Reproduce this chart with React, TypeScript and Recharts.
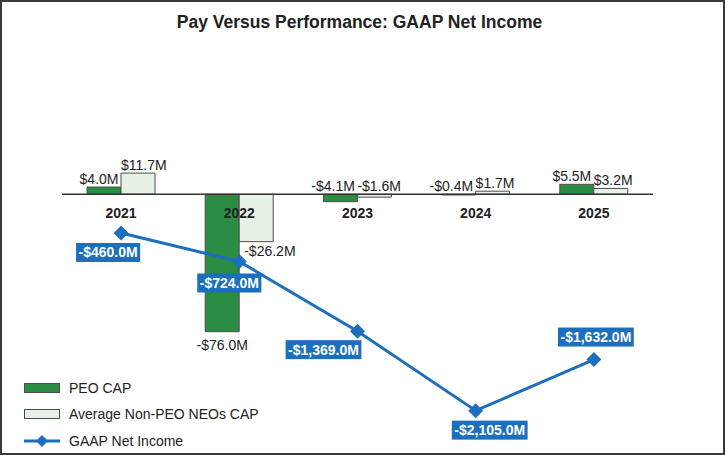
// Pay vs performance: CAP bars against GAAP net income line
import React from 'react';
import {
  ComposedChart,
  Bar,
  Line,
  XAxis,
  YAxis,
  ReferenceLine,
  LabelList,
  Legend,
} from 'recharts';

const years = ['2021', '2022', '2023', '2024', '2025'];
const peoCap = [4.0, -76.0, -4.1, -0.4, 5.5];
const neoCap = [11.7, -26.2, -1.6, 1.7, 3.2];
const netIncome = [-460.0, -724.0, -1369.0, -2105.0, -1632.0];
const seriesNames = ['PEO CAP', 'Average Non-PEO NEOs CAP', 'GAAP Net Income'];

const data = years.map((year, i) => ({
  year,
  peo: peoCap[i],
  neo: neoCap[i],
  income: netIncome[i],
}));

const FONT = '"Liberation Sans", Arial, sans-serif';
const GREEN = '#2b8c43';
const PALE = '#e6f2e6';
const EDGE = '#4d4d4d';
const BLUE = '#1c6fbd';

// where each net income tag sits relative to its point
const TAG_DX = [-13, -10, -34, 14, 2];
const TAG_DY = [10, 12, 9, 10, -32];

const money = (v: number) => `${v < 0 ? '-' : ''}$${Math.abs(v).toFixed(1)}M`;
const bigMoney = (v: number) =>
  `${v < 0 ? '-' : ''}$${Math.abs(v).toLocaleString('en-US', {
    minimumFractionDigits: 1,
    maximumFractionDigits: 1,
  })}M`;

// rough Arial Bold 14px widths, enough to size the tag boxes
const charW: Record<string, number> = { '-': 4.66, $: 7.78, ',': 3.89, '.': 3.89, M: 11.66 };
const textWidth = (s: string) => s.split('').reduce((w, c) => w + (charW[c] ?? 7.78), 0);

const box = (p: any) => {
  const vb = p.viewBox ?? p;
  return { x: Number(vb.x), y: Number(vb.y), width: Number(vb.width) || 0, height: Number(vb.height) || 0 };
};

const barLabel = (series: 'peo' | 'neo') => (p: any) => {
  const { x, y, width, height } = box(p);
  const v = Number(p.value);
  const top = Math.min(y, y + height);
  const bottom = Math.max(y, y + height);
  let tx: number;
  let ty: number;
  let anchor: 'start' | 'middle' | 'end';
  if (v < -10) {
    ty = bottom + (series === 'peo' ? 18 : 14);
    tx = series === 'peo' ? x + width / 2 : x + 5;
    anchor = series === 'peo' ? 'middle' : 'start';
  } else {
    ty = top - 3.5;
    tx = series === 'peo' ? x + width - 2.5 : x;
    anchor = series === 'peo' ? 'end' : 'start';
  }
  return (
    <text x={tx} y={ty} textAnchor={anchor} fontSize={14} fontFamily={FONT} fill="#222">
      {money(v)}
    </text>
  );
};

const YearLabel = (p: any) => {
  const { x, y } = box(p);
  return (
    <text x={x} y={y + 23.4} textAnchor="middle" fontSize={14} fontWeight="bold" fontFamily={FONT} fill="#222">
      {p.value}
    </text>
  );
};

const IncomeTag = (p: any) => {
  const { x, y } = box(p);
  const i = Number(p.index);
  const label = bigMoney(Number(p.value));
  const w = textWidth(label) + 5;
  const cx = x + (TAG_DX[i] ?? 0);
  const top = y + (TAG_DY[i] ?? 10);
  return (
    <g>
      <rect x={cx - w / 2} y={top} width={w} height={19} fill={BLUE} />
      <text x={cx} y={top + 14.5} textAnchor="middle" fontSize={14} fontWeight="bold" fontFamily={FONT} fill="#fff">
        {label}
      </text>
    </g>
  );
};

const diamond = (cx: number, cy: number, r: number) =>
  `M${cx},${cy - r}L${cx + r},${cy}L${cx},${cy + r}L${cx - r},${cy}Z`;

const LegendList = (props: any) => {
  const items = (props.payload || [])
    .filter((e: any) => e.type !== 'none')
    .slice()
    .sort((a: any, b: any) => seriesNames.indexOf(a.value) - seriesNames.indexOf(b.value));
  return (
    <div style={{ fontFamily: FONT, fontSize: 14, color: '#222' }}>
      {items.map((e: any) => (
        <div key={e.value} style={{ display: 'flex', alignItems: 'center', height: 26.5 }}>
          <svg width={36} height={16} style={{ marginRight: 9, display: 'block' }}>
            {e.type === 'line' ? (
              <g>
                <line x1={0} y1={8} x2={36} y2={8} stroke={e.color} strokeWidth={3} />
                <path d={diamond(18, 8, 6)} fill={e.color} />
              </g>
            ) : (
              <rect x={0.5} y={3.5} width={35} height={9} fill={e.color} stroke={EDGE} />
            )}
          </svg>
          <span>{e.value}</span>
        </div>
      ))}
    </div>
  );
};

export default function App() {
  return (
    <div style={{ position: 'absolute', left: 0, top: 0, width: 725, height: 455, background: '#fff', fontFamily: FONT }}>
      <ComposedChart
        width={725}
        height={455}
        data={data}
        margin={{ top: 40, right: 72, bottom: 15, left: 62 }}
        barSize={34}
        barGap={0}
      >
        <XAxis dataKey="year" hide />
        <YAxis yAxisId="left" domain={[-135.9, 85.3]} hide />
        <YAxis yAxisId="right" orientation="right" domain={[-2377, 1327]} hide />
        <Bar yAxisId="left" dataKey="peo" name={seriesNames[0]} fill={GREEN} stroke={EDGE} strokeWidth={1} isAnimationActive={false}>
          <LabelList dataKey="peo" content={barLabel('peo')} />
        </Bar>
        <Bar
          yAxisId="left"
          dataKey="neo"
          name={seriesNames[1]}
          fill={PALE}
          stroke={EDGE}
          strokeWidth={1}
          isAnimationActive={false}
        >
          <LabelList dataKey="neo" content={barLabel('neo')} />
        </Bar>
        <ReferenceLine yAxisId="left" y={0} stroke="#333" strokeWidth={1.5} />
        <Line
          yAxisId="left"
          dataKey={() => 0}
          stroke="none"
          dot={false}
          activeDot={false}
          legendType="none"
          isAnimationActive={false}
        >
          <LabelList dataKey="year" content={YearLabel} />
        </Line>
        <Line
          yAxisId="right"
          dataKey="income"
          name={seriesNames[2]}
          stroke={BLUE}
          strokeWidth={3}
          dot={(p: any) => <path key={`d${p.index}`} d={diamond(p.cx, p.cy, 7.5)} fill={BLUE} />}
          activeDot={false}
          isAnimationActive={false}
        >
          <LabelList dataKey="income" content={IncomeTag} />
        </Line>
        <Legend
          layout="vertical"
          align="center"
          verticalAlign="middle"
          content={LegendList}
          wrapperStyle={{ left: 24, top: 374.5, width: 300, height: 'auto' }}
        />
      </ComposedChart>
      <div
        style={{
          position: 'absolute',
          left: 0,
          top: 13.7,
          width: 719,
          textAlign: 'center',
          fontSize: 17.5,
          lineHeight: 1,
          fontWeight: 'bold',
          color: '#222',
        }}
      >
        Pay Versus Performance: GAAP Net Income
      </div>
      <div
        style={{
          position: 'absolute',
          inset: 0,
          border: '2px solid #3a3a3a',
          boxSizing: 'border-box',
          pointerEvents: 'none',
        }}
      />
    </div>
  );
}
